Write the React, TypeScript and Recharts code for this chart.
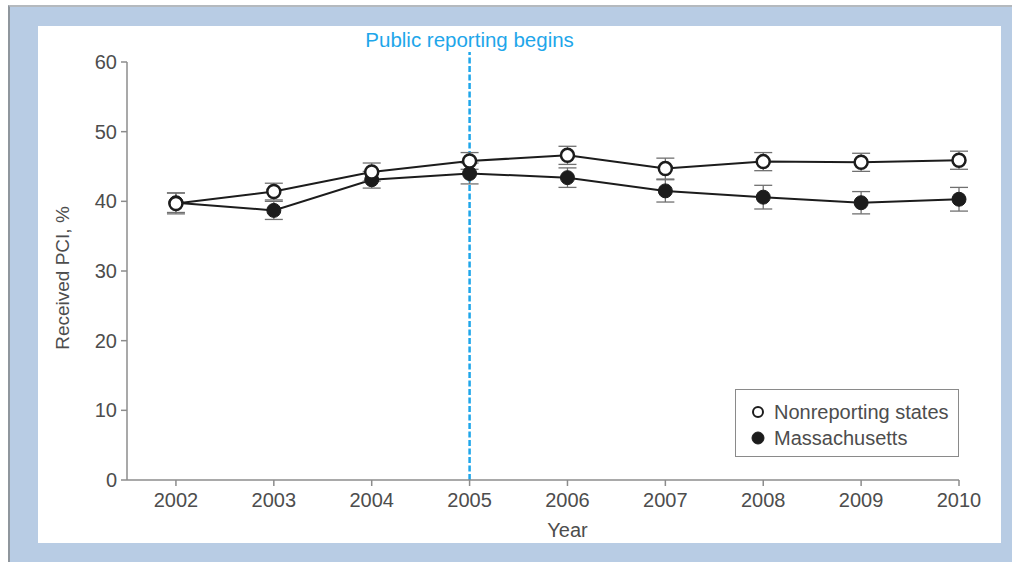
import React from "react";
import {
  LineChart,
  Line,
  XAxis,
  YAxis,
  ErrorBar,
  ReferenceLine,
  Legend,
} from "recharts";

const years = [2002, 2003, 2004, 2005, 2006, 2007, 2008, 2009, 2010];
const nonreporting = [39.7, 41.4, 44.2, 45.8, 46.6, 44.7, 45.7, 45.6, 45.9];
const nonreportingErr = [1.5, 1.2, 1.3, 1.2, 1.3, 1.5, 1.3, 1.3, 1.3];
const massachusetts = [39.8, 38.7, 43.1, 44.0, 43.4, 41.5, 40.6, 39.8, 40.3];
const massachusettsErr = [1.4, 1.3, 1.2, 1.5, 1.4, 1.6, 1.7, 1.6, 1.7];
const yTicks = [0, 10, 20, 30, 40, 50, 60];
const reportingYear = 2005;

const FONT = "'Liberation Sans', Arial, Helvetica, sans-serif";
const INK = "#1c1c1c";
const AXIS = "#8c8c8c";
const TEXT = "#4d4d4d";
const BLUE = "#1ea6ea";

const data = years.map((year, i) => ({
  year,
  nonrep: nonreporting[i],
  nonrepErr: nonreportingErr[i],
  ma: massachusetts[i],
  maErr: massachusettsErr[i],
}));

const renderLegend = () => (
  <div
    style={{
      width: 224,
      height: 68,
      boxSizing: "border-box",
      border: "1px solid #8a8a8a",
      fontFamily: FONT,
      fontSize: 20,
      color: TEXT,
      position: "relative",
    }}
  >
    {[
      { label: "Nonreporting states", open: true, top: 9 },
      { label: "Massachusetts", open: false, top: 35 },
    ].map((it) => (
      <div
        key={it.label}
        style={{ position: "absolute", left: 14, top: it.top, display: "flex", alignItems: "center", height: 26 }}
      >
        <svg width={16} height={16} style={{ marginRight: 8 }}>
          <circle
            cx={8}
            cy={8}
            r={it.open ? 5 : 6}
            fill={it.open ? "#fff" : INK}
            stroke={INK}
            strokeWidth={it.open ? 2 : 1}
          />
        </svg>
        <span style={{ lineHeight: "26px" }}>{it.label}</span>
      </div>
    ))}
  </div>
);

export default function App() {
  return (
    <div style={{ position: "fixed", left: 0, top: 0, width: 1012, height: 562, background: "#fff" }}>
      <div
        style={{
          position: "absolute",
          left: 8,
          top: 5,
          width: 1004,
          height: 557,
          boxSizing: "border-box",
          background: "#b8cce4",
          borderLeft: "2px solid #8f969d",
          borderTop: "2px solid #b4b9be",
        }}
      />
      <div style={{ position: "absolute", left: 38, top: 26, width: 963, height: 517, background: "#fff" }} />
      <div style={{ position: "absolute", left: 0, top: 0 }}>
        <LineChart
          width={1012}
          height={562}
          data={data}
          margin={{ top: 62, right: 53, left: 67, bottom: 52 }}
          style={{ fontFamily: FONT }}
        >
          <XAxis
            dataKey="year"
            type="number"
            domain={[2001.5, 2010]}
            ticks={years}
            height={30}
            stroke={AXIS}
            strokeWidth={1.5}
            tickSize={6}
            tickMargin={7}
            tick={{ fill: TEXT, fontSize: 20 }}
            label={{ value: "Year", position: "bottom", offset: 13, dx: 24.5, fill: TEXT, fontSize: 20 }}
          />
          <YAxis
            domain={[0, 60]}
            ticks={yTicks}
            width={60}
            stroke={AXIS}
            strokeWidth={1.5}
            tickSize={6}
            tickMargin={4}
            tick={{ fill: TEXT, fontSize: 20 }}
            label={{ value: "Received PCI, %", angle: -90, position: "center", dx: -35, dy: 7, fill: TEXT, fontSize: 19 }}
          />
          <ReferenceLine
            segment={[
              { x: reportingYear, y: 0 },
              { x: reportingYear, y: 61.45 },
            ]}
            ifOverflow="visible"
            stroke={BLUE}
            strokeWidth={2.5}
            strokeDasharray="6 2.5"
            label={{ value: "Public reporting begins", position: "top", offset: 5, fill: BLUE, fontSize: 20.5 }}
          />
          <Legend
            layout="horizontal"
            verticalAlign="middle"
            align="center"
            content={renderLegend}
            wrapperStyle={{ left: 735, top: 389, width: 224, height: 68 }}
          />
          <Line
            dataKey="ma"
            type="linear"
            stroke={INK}
            strokeWidth={2}
            dot={{ r: 7, fill: INK, stroke: INK, strokeWidth: 1 }}
            activeDot={false}
            isAnimationActive={false}
          >
            <ErrorBar dataKey="maErr" direction="y" width={9} stroke="#707070" strokeWidth={1.3} isAnimationActive={false} />
          </Line>
          <Line
            dataKey="nonrep"
            type="linear"
            stroke={INK}
            strokeWidth={2}
            dot={{ r: 6.5, fill: "#fff", stroke: INK, strokeWidth: 2.5 }}
            activeDot={false}
            isAnimationActive={false}
          >
            <ErrorBar dataKey="nonrepErr" direction="y" width={9} stroke="#707070" strokeWidth={1.3} isAnimationActive={false} />
          </Line>
        </LineChart>
      </div>
    </div>
  );
}
